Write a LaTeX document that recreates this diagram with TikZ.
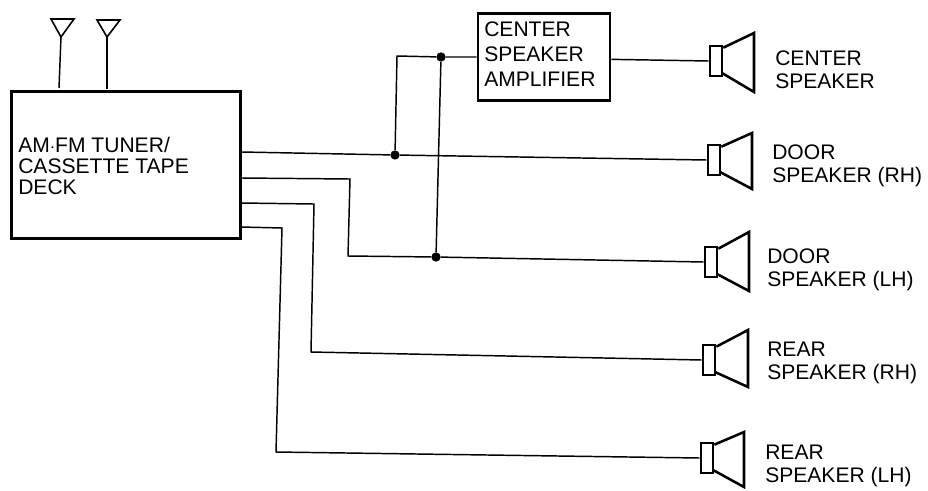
\documentclass[tikz,border=0pt]{standalone}
\usepackage{fontspec}
\setmainfont{Liberation Sans}
\tikzset{
  unitbox/.style={draw,line width=2pt,inner sep=0pt},
  spkbox/.style={draw,line width=2pt,minimum width=12*0.75pt,minimum height=30*0.75pt,inner sep=0pt},
  spkcone/.style={line width=1.9pt,line join=miter},
  spklabel/.style={font=\fontsize{15.8}{17.3}\selectfont,align=left,inner sep=0pt,anchor=west},
  wire/.style={line width=1.1pt},
  dot/.style={circle,fill=black,inner sep=0pt,minimum size=7pt}
}
\begin{document}
\begin{tikzpicture}[x=0.75pt,y=-0.75pt]
\useasboundingbox (0,0) rectangle (928,490);
% tuner and amplifier
\node[unitbox,minimum width=171.5pt,minimum height=110pt] (deck) at (126,165) {};
\node[font=\fontsize{15.8}{16}\selectfont,align=left,anchor=west,inner sep=0pt] (decktext) at (18,166) {AM$\cdot$FM TUNER/\\CASSETTE TAPE\\DECK};
\node[unitbox,minimum width=99pt,minimum height=65pt] (amp) at (544,57) {};
\node[font=\fontsize{15.8}{18.7}\selectfont,align=left,anchor=west,inner sep=0pt] (amptext) at (484,54) {CENTER\\SPEAKER\\AMPLIFIER};
% aerials
\coordinate (ant1) at (61,37);
\coordinate (ant2) at (107,37);
\draw[line width=1.2pt] (51,19) -- (74,19) -- (ant1) -- cycle;
\draw[line width=1.2pt] (97,20) -- (120,20) -- (ant2) -- cycle;
\draw[wire] (ant1) -- (59,88);
\draw[wire] (ant2) -- (107,89);
% speakers
\begin{scope}[shift={(716,61)}]
\node[spkbox] (spka) at (0,0) {};
\draw[spkcone] (spka.north east) ++(0,3) -- (38,-28) -- (38,31) -- (6,12);
\node[spklabel] (laba) at (59,9) {CENTER\\SPEAKER};
\end{scope}
\begin{scope}[shift={(714,160)}]
\node[spkbox] (spkb) at (0,0) {};
\draw[spkcone] (spkb.north east) ++(0,3) -- (38,-27) -- (38,29) -- (6,12);
\node[spklabel] (labb) at (58,6) {DOOR\\SPEAKER (RH)};
\end{scope}
\begin{scope}[shift={(711,262)}]
\node[spkbox] (spkc) at (0,0) {};
\draw[spkcone] (spkc.north east) ++(0,3) -- (38,-30) -- (38,29) -- (6,12);
\node[spklabel] (labc) at (56,8) {DOOR\\SPEAKER (LH)};
\end{scope}
\begin{scope}[shift={(709,360)}]
\node[spkbox] (spkd) at (0,0) {};
\draw[spkcone] (spkd.north east) ++(0,3) -- (39,-30) -- (39,27) -- (6,12);
\node[spklabel] (labd) at (58,3) {REAR\\SPEAKER (RH)};
\end{scope}
\begin{scope}[shift={(707,458)}]
\node[spkbox] (spke) at (0,0) {};
\draw[spkcone] (spke.north east) ++(0,3) -- (37,-26) -- (37,29) -- (6,12);
\node[spklabel] (labe) at (58,8) {REAR\\SPEAKER (LH)};
\end{scope}
% wiring
\node[dot] (j1) at (395,155) {};
\node[dot] (j2) at (441,57) {};
\node[dot] (j3) at (436,257) {};
\draw[wire] (242,152) -- (j1) -- (spkb.west);
\draw[wire] (j1) -- (397,56) -- (j2) -- (amp.west);
\draw[wire] (j2) -- (j3) -- (spkc.west);
\draw[wire] (242,178) -- (350,179) -- (348,256) -- (j3);
\draw[wire] (241,203) -- (314,204) -- (311,352) -- (spkd.west);
\draw[wire] (241,227) -- (282,228) -- (276,452) -- (spke.west);
\draw[wire] (amp.-2) -- (spka.west);
\end{tikzpicture}
\end{document}
